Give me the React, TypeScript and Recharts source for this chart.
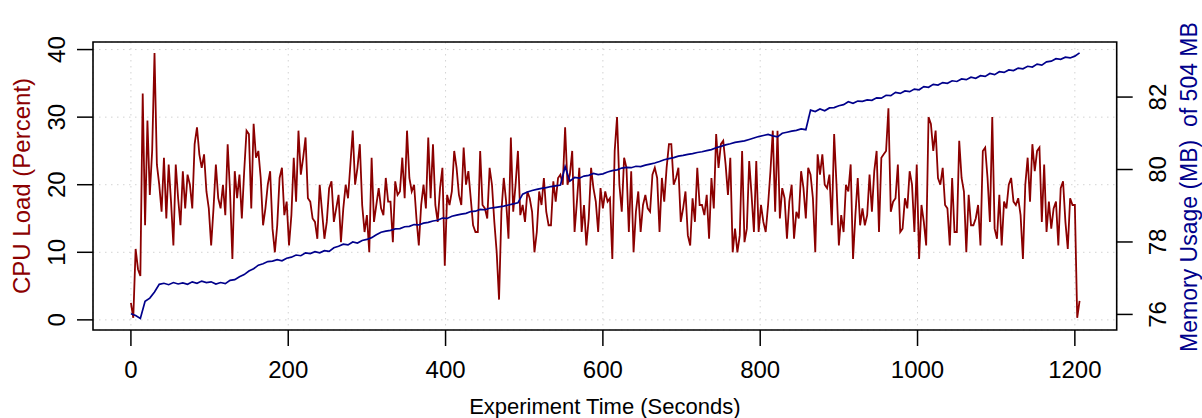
import {
  LineChart,
  Line,
  XAxis,
  YAxis,
  CartesianGrid,
  ReferenceArea,
} from "recharts";

// sampling interval of each log, in seconds
const CPU_STEP = 3;
const MEM_STEP = 6;

// CPU load in percent, one value every 3 s from t = 0
const cpuLoad = [
  // 0 - 237 s
  2.5, 0.3, 10.5, 7.5, 6.5, 33.5, 14, 29.5, 18.5, 25,
  39.5, 23, 20, 16, 24, 15, 23, 17.5, 11, 23,
  18, 14, 22, 16.5, 21.5, 20, 16.5, 26, 28.5, 24.5,
  22.5, 24.5, 19, 16.5, 11, 16.5, 23, 18, 16.5, 20,
  15.5, 26, 19, 9, 22, 18, 21.5, 15, 22, 28,
  27.5, 16.5, 29, 24, 25, 21, 14, 16.5, 20, 22,
  13.5, 10, 14, 21, 22.5, 15.5, 17.5, 11, 15.5, 24,
  17.5, 28, 21.5, 24, 27, 18, 17.5, 15, 14.5, 12,
  // 240 - 477 s
  20, 16, 12, 14.5, 19.5, 20.5, 14.5, 16.5, 18.5, 11.5,
  16.5, 20, 18, 23, 28, 20, 22.5, 26, 17, 13,
  15.5, 10, 24, 14.5, 17, 19.5, 16.5, 15.5, 21, 17.5,
  17.5, 11.5, 20.5, 18.5, 19, 24, 18, 28, 21, 19,
  20, 15, 11, 17, 20, 16.5, 27, 18, 26, 17,
  14.5, 19.5, 22.5, 8, 18.5, 17, 19, 25, 22.5, 18.5,
  17, 25.5, 20, 22, 18, 14, 13, 13, 25, 17,
  16.5, 15, 22.5, 20, 14.5, 10, 3, 16, 21, 17.5,
  // 480 - 720 s
  12, 27, 16, 20, 25, 15.5, 17, 14.5, 19, 18,
  16, 10, 13, 19, 17, 21, 16, 14, 14, 20.5,
  17.5, 21, 21.5, 20, 28.5, 20, 21.5, 25, 13, 17.5,
  22.5, 13, 17, 11, 15, 22.5, 19.5, 17.5, 13, 19.5,
  16.5, 19, 17.5, 18, 9, 25, 30, 20, 16, 24,
  22.5, 13, 22, 10, 16, 19, 13, 17, 18.5, 16.5,
  16, 21.5, 22.5, 21, 13, 21, 17.5, 22.5, 26, 26,
  20, 21, 22.5, 14.5, 16.5, 19, 12.5, 11, 18, 14.5,
  22.5,
  // 723 - 963 s
  17, 17, 15.5, 18.5, 12, 21, 16.5, 27.5, 22.5, 26,
  26.5, 23, 18.5, 24, 10, 13.5, 10, 12.5, 25, 11.5,
  13.5, 23.5, 18.5, 13, 23.5, 13, 17, 14.5, 13, 17,
  22, 28, 16, 28, 15, 19.5, 18, 12, 17.5, 20,
  12, 16, 15, 22, 19.5, 15, 22.5, 21.5, 18, 10,
  24.5, 21.5, 24.5, 20, 19.5, 21.5, 14, 27.5, 20, 11,
  15.5, 13, 20, 19, 23, 9, 15.5, 21, 14, 16.5,
  14, 15.5, 21.5, 16, 22, 25, 13, 24, 24.5, 25,
  31.3,
  // 966 - 1206 s
  16, 17.5, 18, 23, 13, 13.5, 18, 16.5, 22, 20,
  13, 23, 9, 17, 14.5, 11, 30, 29, 25, 28,
  21, 20, 22.5, 17, 16.5, 11, 21, 13, 13, 26.5,
  21, 19, 10, 18.5, 14, 14, 15, 17, 11, 25,
  25.5, 21, 14.5, 30, 13.5, 12, 18.5, 11, 17.5, 16.5,
  20, 21, 17.5, 17, 18, 15.5, 9, 20, 24, 17.5,
  26, 22, 25, 25.5, 14.5, 23, 13, 17.5, 13.5, 16.5,
  17.5, 11, 19.5, 20.5, 14.5, 10.5, 18, 17, 17, 0.3,
  2.8,
];

// memory used in MB, one value every 6 s from t = 0
const memoryMb = [
  76.02, 75.97, 75.89, 76.36, 76.45, 76.62, 76.83, 76.86, 76.82, 76.88,
  76.84, 76.87, 76.83, 76.9, 76.86, 76.92, 76.88, 76.9, 76.84, 76.88,
  76.85, 76.94, 76.96, 77.04, 77.1, 77.2, 77.26, 77.36, 77.4, 77.46,
  77.47, 77.51, 77.48, 77.55, 77.58, 77.64, 77.62, 77.7, 77.68, 77.73,
  77.7, 77.76, 77.74, 77.84, 77.88, 77.94, 77.92, 78.0, 77.97, 78.04,
  78.07, 78.12, 78.2, 78.27, 78.3, 78.32, 78.36, 78.37, 78.42, 78.43,
  78.48, 78.47, 78.52, 78.54, 78.58, 78.6, 78.66, 78.65, 78.71, 78.74,
  78.77, 78.79, 78.84, 78.85, 78.9, 78.89, 78.93, 78.95, 78.97, 78.99,
  79.02, 79.05, 79.08, 79.32, 79.38, 79.42, 79.45, 79.48, 79.5, 79.53,
  79.55, 79.57, 80.08, 79.68, 79.78, 79.76, 79.82, 79.84, 79.89, 79.86,
  79.88, 79.93, 79.97, 79.99, 80.04, 80.06, 80.05, 80.09, 80.08, 80.12,
  80.15, 80.18, 80.22, 80.27, 80.3, 80.33, 80.37, 80.39, 80.42, 80.44,
  80.47, 80.49, 80.52, 80.55, 80.6, 80.64, 80.68, 80.71, 80.75, 80.77,
  80.79, 80.83, 80.87, 80.91, 80.94, 80.97, 80.93, 80.9, 81.0, 81.03,
  81.06, 81.08, 81.12, 81.1, 81.64, 81.6, 81.67, 81.62, 81.7, 81.71,
  81.76, 81.79, 81.87, 81.83, 81.89, 81.88, 81.92, 81.91, 81.98, 81.97,
  82.05, 82.04, 82.13, 82.1, 82.17, 82.15, 82.22, 82.2, 82.29, 82.27,
  82.35, 82.33, 82.4, 82.38, 82.45, 82.43, 82.5, 82.48, 82.55, 82.52,
  82.59, 82.57, 82.65, 82.62, 82.7, 82.68, 82.75, 82.73, 82.8, 82.78,
  82.85, 82.83, 82.91, 82.88, 82.97, 82.99, 83.06, 83.04, 83.1, 83.08,
  83.13, 83.22,
];

const timeTicks = [0, 200, 400, 600, 800, 1000, 1200];
const cpuTicks = [0, 10, 20, 30, 40];
const memTicks = [76, 78, 80, 82];

// axis ranges (R style, 4% padding)
const X_DOMAIN: [number, number] = [-48.2, 1253.2];
const CPU_DOMAIN: [number, number] = [-1.5, 41.12];
const MEM_DOMAIN: [number, number] = [75.57, 83.52];

const FONT = "'Liberation Sans', Arial, Helvetica, sans-serif";
const CPU_COLOR = "#8B0000";
const MEM_COLOR = "#00008B";

const cpuData = cpuLoad.map((v, i) => ({ t: i * CPU_STEP, load: v }));
const memData = memoryMb.map((v, i) => ({ t: i * MEM_STEP, mem: v }));

const BottomTick = (props: any) => {
  const { x, y, payload } = props;
  return (
    <text x={x} y={y + 30} textAnchor="middle" fontSize={24} fontFamily={FONT} fill="#000">
      {payload.value}
    </text>
  );
};

// rotated tick labels like R's default las=0
const LeftTick = (props: any) => {
  const { x, y, payload } = props;
  const bx = x - 10;
  return (
    <text
      x={bx}
      y={y}
      transform={`rotate(-90 ${bx} ${y})`}
      textAnchor="middle"
      fontSize={24}
      fontFamily={FONT}
      fill="#000"
    >
      {payload.value}
    </text>
  );
};

const RightTick = (props: any) => {
  const { x, y, payload } = props;
  const bx = x + 31;
  return (
    <text
      x={bx}
      y={y}
      transform={`rotate(-90 ${bx} ${y})`}
      textAnchor="middle"
      fontSize={24}
      fontFamily={FONT}
      fill="#000"
    >
      {payload.value}
    </text>
  );
};

export default function App() {
  return (
    <div style={{ position: "absolute", left: 0, top: 0, width: 1202, height: 418, background: "#fff" }}>
      <LineChart width={1202} height={418} margin={{ top: 42, right: 0, bottom: 0, left: 0 }}>
        <CartesianGrid
          yAxisId="cpu"
          stroke="#D3D3D3"
          strokeDasharray="1.5 4.5"
          strokeWidth={1}
        />
        <XAxis
          dataKey="t"
          type="number"
          domain={X_DOMAIN}
          ticks={timeTicks}
          allowDataOverflow
          height={88}
          tickSize={16}
          tickLine={{ stroke: "#000", strokeWidth: 1.5 }}
          axisLine={false}
          tick={<BottomTick />}
          label={{
            content: (p: any) => {
              const vb = p.viewBox || { x: 93, y: 330, width: 1023.7 };
              return (
                <text
                  x={vb.x + vb.width / 2}
                  y={vb.y + 84}
                  textAnchor="middle"
                  fontSize={22}
                  fontFamily={FONT}
                  fill="#000"
                >
                  Experiment Time (Seconds)
                </text>
              );
            },
          }}
        />
        <YAxis
          yAxisId="cpu"
          orientation="left"
          width={93}
          domain={CPU_DOMAIN}
          ticks={cpuTicks}
          allowDataOverflow
          tickSize={16}
          tickLine={{ stroke: "#000", strokeWidth: 1.5 }}
          axisLine={false}
          tick={<LeftTick />}
          label={{
            content: (p: any) => {
              const vb = p.viewBox || { x: 0, y: 42, height: 288 };
              const lx = vb.x + 30;
              const ly = vb.y + vb.height / 2;
              return (
                <text
                  x={lx}
                  y={ly}
                  transform={`rotate(-90 ${lx} ${ly})`}
                  textAnchor="middle"
                  fontSize={24}
                  fontFamily={FONT}
                  fill={CPU_COLOR}
                >
                  CPU Load (Percent)
                </text>
              );
            },
          }}
        />
        <YAxis
          yAxisId="mem"
          orientation="right"
          width={85.3}
          domain={MEM_DOMAIN}
          ticks={memTicks}
          allowDataOverflow
          tickSize={16}
          tickLine={{ stroke: "#000", strokeWidth: 1.5 }}
          axisLine={false}
          tick={<RightTick />}
          label={{
            content: (p: any) => {
              const vb = p.viewBox || { x: 1116.7, y: 42, height: 288 };
              const lx = vb.x + 80;
              const ly = vb.y + vb.height / 2 + 1;
              return (
                <text
                  x={lx}
                  y={ly}
                  transform={`rotate(-90 ${lx} ${ly})`}
                  textAnchor="middle"
                  fontSize={23}
                  fontFamily={FONT}
                  fill={MEM_COLOR}
                  style={{ whiteSpace: "pre" }}
                >
                  {"Memory Usage (MB)  of 504 MB"}
                </text>
              );
            },
          }}
        />
        <ReferenceArea
          yAxisId="cpu"
          x1={X_DOMAIN[0]}
          x2={X_DOMAIN[1]}
          y1={CPU_DOMAIN[0]}
          y2={CPU_DOMAIN[1]}
          fill="none"
          stroke="#000"
          strokeWidth={1.6}
          ifOverflow="visible"
        />
        <Line
          data={cpuData}
          yAxisId="cpu"
          dataKey="load"
          type="linear"
          stroke={CPU_COLOR}
          strokeWidth={1.8}
          dot={false}
          activeDot={false}
          isAnimationActive={false}
        />
        <Line
          data={memData}
          yAxisId="mem"
          dataKey="mem"
          type="linear"
          stroke={MEM_COLOR}
          strokeWidth={1.7}
          dot={false}
          activeDot={false}
          isAnimationActive={false}
        />
      </LineChart>
    </div>
  );
}
